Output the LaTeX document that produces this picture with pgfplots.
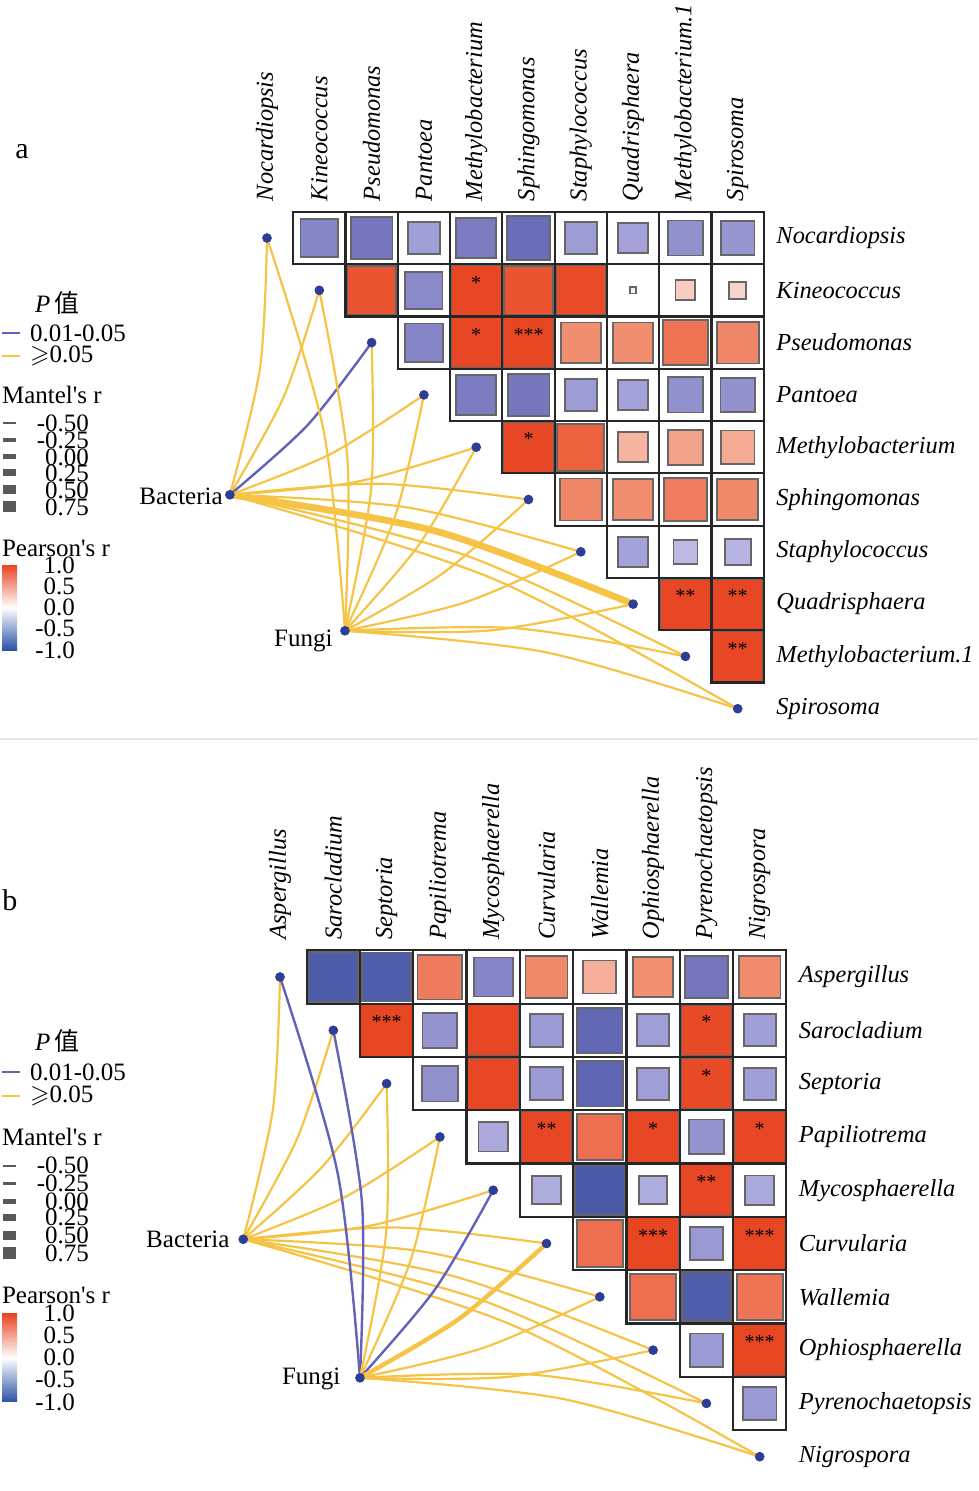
\documentclass[border=0pt]{standalone}
\usepackage{amssymb}
\usepackage{fontspec}
\setmainfont{Liberation Serif}
\newfontfamily\cjk{Noto Sans CJK SC}
\usepackage{pgfplots}
\usepackage{pgfplotstable}
\pgfplotsset{compat=1.18}

\newcommand{\lf}{\fontsize{12.5}{13}\selectfont}
\newcommand{\tf}{\fontsize{12.2}{13}\selectfont}
\definecolor{linkyellow}{RGB}{245,196,70}
\definecolor{linkblue}{RGB}{98,98,185}
\definecolor{dotblue}{RGB}{45,62,150}
\definecolor{cbred}{RGB}{232,68,34}
\definecolor{cbblue}{RGB}{42,82,165}

\pgfplotsset{
  colormap={rb}{rgb255(0pt)=(60,78,162); rgb255(7pt)=(78,92,170); rgb255(15pt)=(98,104,180);
    rgb255(20pt)=(118,118,190); rgb255(28pt)=(135,135,200); rgb255(40pt)=(160,158,214);
    rgb255(50pt)=(182,180,226); rgb255(100pt)=(255,255,255); rgb255(130pt)=(249,214,205);
    rgb255(160pt)=(246,178,158); rgb255(177pt)=(241,142,112); rgb255(185pt)=(238,120,90);
    rgb255(190pt)=(236,98,62); rgb255(195pt)=(233,75,40); rgb255(200pt)=(230,66,32)},
  corr/.style={
    anchor=north west, clip=false,
    xmin=-0.5, xmax=9.5, ymin=-9.5, ymax=0.5,
    axis line style={draw=none}, tick style={draw=none},
    xtick={0,...,9}, ytick={-9,...,0},
    xticklabel pos=upper, yticklabel pos=upper,
    xticklabel style={rotate=90, anchor=west, inner xsep=5.2pt, font=\tf\itshape},
    yticklabel style={anchor=west, inner xsep=6.1pt, font=\tf\itshape},
    colormap name=rb, point meta min=-1, point meta max=1,
  },
  corrcells/.style={scatter, only marks, mark=square*, point meta=explicit,
    scatter/use mapped color={draw=black!60, fill=mapped color},
    visualization depends on={abs(\thisrow{r})*#1 \as \msz},
    scatter/@pre marker code/.append style={/tikz/mark size=\msz},
    mark options={line width=0.9pt}},
  cellgrid/.style={only marks, mark=square, mark size=#1,
    mark options={draw=black!85, line width=1.1pt}},
  lky/.style={smooth, no markers, color=linkyellow, line width=1.1pt},
  lkb/.style={smooth, no markers, color=linkblue, line width=1.2pt},
  dotmk/.style={only marks, mark=*, mark size=2.2pt, color=dotblue},
  starmk/.style={only marks, mark=text, text mark={#1}, color=black,
    text mark as node=true,
    text mark style={font=\fontsize{10}{10}\selectfont, inner sep=0pt}},
}
\newcommand{\lk}[4]{\addplot[#1] coordinates {#2 #3 #4};}

% Pearson's r between genera, upper triangle (col, row, r)
\pgfplotstableread{
col row r
1 0 -0.72
2 0 -0.80
3 0 -0.60
4 0 -0.77
5 0 -0.83
6 0 -0.61
7 0 -0.58
8 0 -0.67
9 0 -0.64
2 1 0.93
3 1 -0.71
4 1 0.97
5 1 0.93
6 1 0.95
7 1 0.12
8 1 0.38
9 1 0.32
3 2 -0.73
4 2 0.97
5 2 0.98
6 2 0.77
7 2 0.77
8 2 0.86
9 2 0.80
4 3 -0.77
5 3 -0.80
6 3 -0.61
7 3 -0.58
8 3 -0.67
9 3 -0.66
5 4 0.97
6 4 0.90
7 4 0.58
8 4 0.67
9 4 0.64
6 5 0.80
7 5 0.77
8 5 0.83
9 5 0.79
7 6 -0.58
8 6 -0.46
9 6 -0.50
8 7 0.97
9 7 0.97
9 8 0.97
}\cellsA

\pgfplotstableread{
col row r
1 0 -0.93
2 0 -0.92
3 0 0.84
4 0 -0.73
5 0 0.79
6 0 0.62
7 0 0.76
8 0 -0.80
9 0 0.78
2 1 0.98
3 1 -0.65
4 1 0.97
5 1 -0.62
6 1 -0.85
7 1 -0.60
8 1 0.96
9 1 -0.60
3 2 -0.67
4 2 0.97
5 2 -0.62
6 2 -0.86
7 2 -0.60
8 2 0.96
9 2 -0.60
4 3 -0.55
5 3 0.97
6 3 0.87
7 3 0.97
8 3 -0.65
9 3 0.97
5 4 -0.53
6 4 -0.94
7 4 -0.53
8 4 0.97
9 4 -0.55
6 5 0.87
7 5 0.98
8 5 -0.63
9 5 0.98
7 6 0.87
8 6 -0.92
9 6 0.86
8 7 -0.62
9 7 0.98
9 8 -0.63
}\cellsB

\newcommand{\mylegend}{%
  \node[anchor=west] at (28,0) {\textit{P}\,{\cjk 值}};
  \draw[linkblue, line width=1pt] (2,30) -- (20,30);
  \node[anchor=west] at (23,30) {0.01-0.05};
  \draw[linkyellow, line width=1pt] (2,53) -- (20,53);
  \node[anchor=west] at (23,53) {$\geqslant$0.05};
  \node[anchor=west] at (-5,92) {Mantel\textquotesingle s r};
  \fill[black!65] (3,119) rectangle (16,121);
  \fill[black!65] (3,135.3) rectangle (16,138.7);
  \fill[black!65] (3,151.5) rectangle (16,156.5);
  \fill[black!65] (3,166.5) rectangle (16,173.5);
  \fill[black!65] (3,182.5) rectangle (16,191.5);
  \fill[black!65] (3,198.5) rectangle (16,209.5);
  \node[anchor=east] at (96,120) {-0.50};
  \node[anchor=east] at (96,137) {-0.25};
  \node[anchor=east] at (96,154) {0.00};
  \node[anchor=east] at (96,170) {0.25};
  \node[anchor=east] at (96,187) {0.50};
  \node[anchor=east] at (96,204) {0.75};
  \node[anchor=west] at (-5,245) {Pearson\textquotesingle s r};
  \shade[top color=cbred, bottom color=cbblue, middle color=white] (2,262) rectangle (17,347);
  \node[anchor=east] at (82,262) {1.0};
  \node[anchor=east] at (82,283) {0.5};
  \node[anchor=east] at (82,304) {0.0};
  \node[anchor=east] at (82,325) {-0.5};
  \node[anchor=east] at (82,347) {-1.0};
}

\begin{document}
\begin{tikzpicture}[font=\lf]
\begin{scope}[x=0.5pt, y=-0.5pt]
  \draw[black!10, line width=1pt] (0,739) -- (978,739);
  \node[font=\fontsize{15}{15}\selectfont] at (22,152) {a};
  \node[font=\fontsize{15}{15}\selectfont] at (10,900) {b};
  \begin{scope}[shift={(0,303)}] \mylegend \end{scope}
  \begin{scope}[shift={(0,1041)}, yscale=1.04] \mylegend \end{scope}
\end{scope}

% ---------- panel a: bacteria ----------
\begin{axis}[corr, at={(120.43pt,-105.93pt)}, x=26.15pt, y=26.15pt,
  xticklabels={Nocardiopsis, Kineococcus, Pseudomonas, Pantoea, Methylobacterium,
    Sphingomonas, Staphylococcus, Quadrisphaera, Methylobacterium.1, Spirosoma},
  yticklabels={Spirosoma, Methylobacterium.1, Quadrisphaera, Staphylococcus, Sphingomonas,
    Methylobacterium, Pantoea, Pseudomonas, Kineococcus, Nocardiopsis}]
\addplot[corrcells=13.075] table[x=col, y expr=-\thisrow{row}, meta=r] {\cellsA};
\addplot[cellgrid=13.075pt] table[x=col, y expr=-\thisrow{row}] {\cellsA};
% Mantel links: source, bend point, target
\lk{lky}{(-0.71,-4.91)}{(-0.134,-2.487)}{(0,0)}
\lk{lky}{(-0.71,-4.91)}{(0.321,-3.032)}{(1,-1)}
\lk{lkb}{(-0.71,-4.91)}{(0.776,-3.577)}{(2,-2)}
\lk{lky}{(-0.71,-4.91)}{(1.231,-4.122)}{(3,-3)}
\lk{lky}{(-0.71,-4.91)}{(1.686,-4.667)}{(4,-4)}
\lk{lky}{(-0.71,-4.91)}{(2.141,-4.698)}{(5,-5)}
\lk{lky}{(-0.71,-4.91)}{(2.694,-5.153)}{(6,-6)}
\lk{lky, line width=3.4pt}{(-0.71,-4.91)}{(3.239,-5.608)}{(7,-7)}
\lk{lky}{(-0.71,-4.91)}{(3.784,-6.063)}{(8,-8)}
\lk{lky}{(-0.71,-4.91)}{(4.329,-6.518)}{(9,-9)}
\lk{lky}{(1.49,-7.51)}{(1.083,-3.688)}{(0,0)}
\lk{lky}{(1.49,-7.51)}{(1.538,-4.233)}{(1,-1)}
\lk{lky}{(1.49,-7.51)}{(1.993,-4.778)}{(2,-2)}
\lk{lky}{(1.49,-7.51)}{(2.448,-5.323)}{(3,-3)}
\lk{lky}{(1.49,-7.51)}{(2.903,-5.868)}{(4,-4)}
\lk{lky}{(1.49,-7.51)}{(3.358,-6.413)}{(5,-5)}
\lk{lky}{(1.49,-7.51)}{(3.813,-6.958)}{(6,-6)}
\lk{lky}{(1.49,-7.51)}{(4.268,-7.503)}{(7,-7)}
\lk{lky}{(1.49,-7.51)}{(4.767,-7.462)}{(8,-8)}
\lk{lky}{(1.49,-7.51)}{(5.312,-7.917)}{(9,-9)}
\addplot[dotmk] coordinates {(0,0) (1,-1) (2,-2) (3,-3) (4,-4) (5,-5) (6,-6) (7,-7) (8,-8) (9,-9) (-0.71,-4.91) (1.49,-7.51)};
\addplot[starmk={*}] coordinates {(4,-0.85) (4,-1.85) (5,-3.85)};
\addplot[starmk={**}] coordinates {(8,-6.85) (9,-6.85) (9,-7.85)};
\addplot[starmk={***}] coordinates {(5,-1.85)};
\node[anchor=east, inner sep=0pt] at (axis cs:-0.84,-4.93) {Bacteria};
\node[anchor=east, inner sep=0pt] at (axis cs:1.26,-7.70) {Fungi};
\end{axis}

% ---------- panel b: fungi ----------
\begin{axis}[corr, at={(126.68pt,-475.18pt)}, x=26.65pt, y=26.65pt,
  xticklabels={Aspergillus, Sarocladium, Septoria, Papiliotrema, Mycosphaerella,
    Curvularia, Wallemia, Ophiosphaerella, Pyrenochaetopsis, Nigrospora},
  yticklabels={Nigrospora, Pyrenochaetopsis, Ophiosphaerella, Wallemia, Curvularia,
    Mycosphaerella, Papiliotrema, Septoria, Sarocladium, Aspergillus}]
\addplot[corrcells=13.325] table[x=col, y expr=-\thisrow{row}, meta=r] {\cellsB};
\addplot[cellgrid=13.325pt] table[x=col, y expr=-\thisrow{row}] {\cellsB};
\lk{lky}{(-0.69,-4.92)}{(-0.134,-2.487)}{(0,0)}
\lk{lky}{(-0.69,-4.92)}{(0.321,-3.032)}{(1,-1)}
\lk{lky}{(-0.69,-4.92)}{(0.776,-3.577)}{(2,-2)}
\lk{lky}{(-0.69,-4.92)}{(1.231,-4.122)}{(3,-3)}
\lk{lky}{(-0.69,-4.92)}{(1.686,-4.667)}{(4,-4)}
\lk{lky}{(-0.69,-4.92)}{(2.141,-4.698)}{(5,-5)}
\lk{lky}{(-0.69,-4.92)}{(2.694,-5.153)}{(6,-6)}
\lk{lky}{(-0.69,-4.92)}{(3.239,-5.608)}{(7,-7)}
\lk{lky}{(-0.69,-4.92)}{(3.784,-6.063)}{(8,-8)}
\lk{lky}{(-0.69,-4.92)}{(4.329,-6.518)}{(9,-9)}
\lk{lkb}{(1.50,-7.52)}{(1.083,-3.688)}{(0,0)}
\lk{lkb}{(1.50,-7.52)}{(1.538,-4.233)}{(1,-1)}
\lk{lky}{(1.50,-7.52)}{(1.993,-4.778)}{(2,-2)}
\lk{lky}{(1.50,-7.52)}{(2.448,-5.323)}{(3,-3)}
\lk{lkb}{(1.50,-7.52)}{(2.903,-5.868)}{(4,-4)}
\lk{lky, line width=2.2pt}{(1.50,-7.52)}{(3.358,-6.413)}{(5,-5)}
\lk{lky}{(1.50,-7.52)}{(3.813,-6.958)}{(6,-6)}
\lk{lky}{(1.50,-7.52)}{(4.268,-7.503)}{(7,-7)}
\lk{lky}{(1.50,-7.52)}{(4.767,-7.462)}{(8,-8)}
\lk{lky}{(1.50,-7.52)}{(5.312,-7.917)}{(9,-9)}
\addplot[dotmk] coordinates {(0,0) (1,-1) (2,-2) (3,-3) (4,-4) (5,-5) (6,-6) (7,-7) (8,-8) (9,-9) (-0.69,-4.92) (1.50,-7.52)};
\addplot[starmk={*}] coordinates {(8,-0.85) (8,-1.85) (7,-2.85) (9,-2.85)};
\addplot[starmk={**}] coordinates {(5,-2.85) (8,-3.85)};
\addplot[starmk={***}] coordinates {(2,-0.85) (7,-4.85) (9,-4.85) (9,-6.85)};
\node[anchor=east, inner sep=0pt] at (axis cs:-0.94,-4.93) {Bacteria};
\node[anchor=east, inner sep=0pt] at (axis cs:1.14,-7.54) {Fungi};
\end{axis}

% fix the page to the reference's 978 x 1491 frame
\pgfresetboundingbox
\path[use as bounding box] (0pt,0pt) rectangle (489pt,-745.5pt);
\end{tikzpicture}
\end{document}
